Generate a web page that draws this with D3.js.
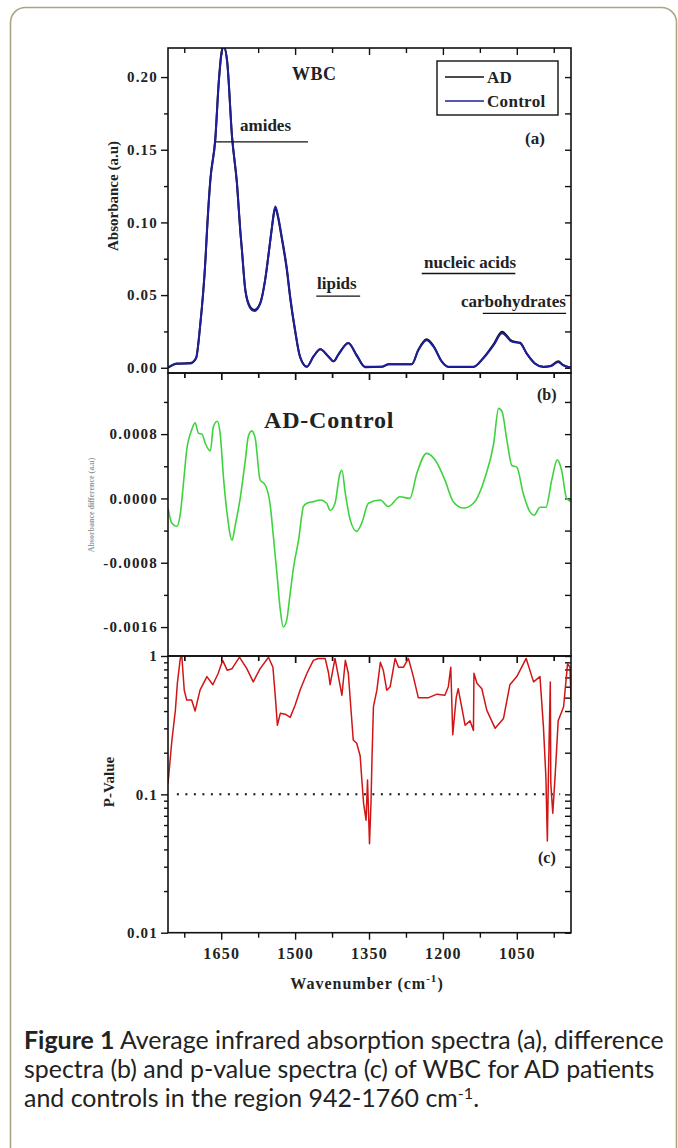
<!DOCTYPE html>
<html>
<head>
<meta charset="utf-8">
<script src="https://cdn.jsdelivr.net/npm/d3@7"></script>
<style>
  body { margin: 0; background: #fff; }
  svg { display: block; }
</style>
</head>
<body>
<div id="chart"></div>
<script>
// ---- data ----
// (a) average absorbance, wavenumber in cm-1
const wnA = [1758, 1740, 1713, 1701, 1693, 1682, 1679, 1672, 1662, 1655, 1649, 1645, 1638, 1628, 1618, 1611, 1608, 1601, 1591, 1583,
  1571, 1561, 1551, 1547, 1543, 1540, 1535, 1527, 1517, 1510, 1500, 1490, 1476, 1463, 1449, 1432, 1422, 1412, 1392, 1375,
  1358, 1324, 1310, 1263, 1250, 1233, 1219, 1202, 1189, 1138, 1118, 1097, 1080, 1060, 1043, 1030, 1013, 996, 982, 966, 956, 940];
const control = [0.0, 0.003, 0.003, 0.0066, 0.028, 0.074, 0.093, 0.129, 0.157, 0.196, 0.217, 0.221, 0.211, 0.159, 0.127, 0.093, 0.081, 0.053, 0.041, 0.039,
  0.044, 0.060, 0.086, 0.097, 0.107, 0.111, 0.105, 0.090, 0.069, 0.049, 0.026, 0.0076, 0.0007, 0.0076, 0.0127, 0.0076, 0.0045, 0.009, 0.017, 0.0087,
  0.0007, 0.0007, 0.0025, 0.0025, 0.012, 0.019, 0.0145, 0.004, 0.0007, 0.0007, 0.0065, 0.0156, 0.0237, 0.018, 0.0168, 0.0099, 0.003, 0.0007, 0.001, 0.004, 0.0018, 0.0];
const ad = [0.0, 0.0027, 0.0032, 0.0068, 0.0282, 0.0745, 0.0938, 0.1298, 0.1575, 0.1968, 0.2178, 0.2212, 0.2110, 0.1588, 0.1265, 0.0930, 0.0812, 0.0535, 0.0418, 0.0398,
  0.0443, 0.0601, 0.0859, 0.0965, 0.1062, 0.1100, 0.1040, 0.0888, 0.0678, 0.0480, 0.0252, 0.0075, 0.0007, 0.0076, 0.0127, 0.0076, 0.0044, 0.0093, 0.0171, 0.0084,
  0.0004, 0.0007, 0.0024, 0.0025, 0.0123, 0.0196, 0.0150, 0.0042, 0.0006, 0.0006, 0.0068, 0.0163, 0.0248, 0.0184, 0.0172, 0.0098, 0.0028, 0.0006, 0.0012, 0.0045, 0.0018, 0.0];

// (b) AD - Control difference
const wnB = [1758, 1750, 1740, 1733, 1726, 1720, 1710, 1703, 1696, 1689, 1682, 1672, 1666, 1658, 1652, 1645, 1638, 1628, 1622, 1611,
  1601, 1595, 1588, 1581, 1571, 1561, 1551, 1544, 1537, 1530, 1524, 1517, 1510, 1503, 1493, 1483, 1476, 1463, 1449, 1436,
  1429, 1419, 1409, 1405, 1398, 1388, 1375, 1365, 1351, 1327, 1311, 1287, 1267, 1253, 1233, 1216, 1196, 1179, 1158, 1138,
  1114, 1097, 1087, 1080, 1070, 1060, 1050, 1037, 1023, 1015, 1003, 991, 979, 968, 959, 949, 940];
const diff = [-0.00012, -0.00031, -0.00035, -0.00019, 0.00023, 0.00060, 0.00085, 0.00094, 0.00081, 0.00080, 0.00068, 0.00059, 0.00089, 0.00096, 0.00080, 0.00023, -0.00019, -0.00052, -0.00035, 0.00002,
  0.00048, 0.00077, 0.00084, 0.00075, 0.00023, 0.00017, -0.00006, -0.00048, -0.00093, -0.00139, -0.00160, -0.00151, -0.00118, -0.00085, -0.00052, -0.00010, -0.00006, -0.00004, -0.00002, -0.00006,
  -0.00015, -0.00006, 0.00031, 0.00035, 0.00006, -0.00027, -0.00041, -0.00031, -0.00006, -0.00002, -0.00010, 0.00002, 0.00000, 0.00031, 0.00056, 0.00048, 0.00023, -0.00004, -0.00012, -0.00006,
  0.00027, 0.00068, 0.00112, 0.00108, 0.00072, 0.00041, 0.00039, 0.00006, -0.00017, -0.00021, -0.00011, -0.00011, 0.00023, 0.00048, 0.00035, 0.00000, -0.00004];

// (c) p-value
const wnC = [1758, 1750, 1743, 1739, 1733, 1730, 1725, 1720, 1710, 1703, 1693, 1679, 1667, 1656, 1647, 1638, 1628, 1613, 1598, 1585,
  1571, 1554, 1545, 1540, 1536, 1530, 1520, 1510, 1500, 1490, 1476, 1463, 1453, 1439, 1432, 1429, 1419, 1412, 1405, 1398,
  1392, 1387, 1382, 1375, 1368, 1365, 1361, 1356, 1353, 1349, 1346, 1344, 1341, 1334, 1327, 1321, 1314, 1307, 1297, 1290,
  1280, 1270, 1260, 1250, 1229, 1212, 1196, 1189, 1184, 1180, 1173, 1169, 1162, 1155, 1145, 1138, 1137, 1131, 1121, 1111,
  1094, 1077, 1064, 1050, 1031, 1016, 1003, 996, 991, 988, 986, 982, 981, 977, 972, 966, 955, 947, 942, 940];
const pValue = [0.12, 0.247, 0.406, 0.635, 0.96, 1.0, 0.566, 0.48, 0.48, 0.40, 0.566, 0.71, 0.62, 0.75, 0.93, 0.79, 0.81, 0.98, 0.81, 0.65,
  0.81, 0.98, 0.83, 0.50, 0.316, 0.385, 0.38, 0.36, 0.44, 0.566, 0.75, 0.93, 0.96, 0.96, 0.75, 0.62, 0.96, 0.71, 0.52, 0.93,
  0.75, 0.43, 0.247, 0.234, 0.19, 0.134, 0.086, 0.065, 0.127, 0.044, 0.086, 0.177, 0.43, 0.566, 0.90, 0.79, 0.566, 0.60, 0.96, 0.83,
  0.83, 0.96, 0.71, 0.50, 0.50, 0.53, 0.52, 0.60, 0.83, 0.27, 0.50, 0.58, 0.43, 0.316, 0.34, 0.29, 0.75, 0.635, 0.58, 0.406,
  0.30, 0.354, 0.62, 0.71, 0.96, 0.65, 0.71, 0.31, 0.134, 0.046, 0.127, 0.65, 0.12, 0.073, 0.14, 0.34, 0.43, 0.88, 0.83, 0.48];

// ticks
const xMajor = [1650, 1500, 1350, 1200, 1050];
const xMinor = [1725, 1575, 1425, 1275, 1125, 975];
const yMajorA = [0, 0.05, 0.10, 0.15, 0.20];
const yMinorA = [0.025, 0.075, 0.125, 0.175];
const yMajorB = [-0.0016, -0.0008, 0, 0.0008];
const yMinorB = [-0.0012, -0.0004, 0.0004, 0.0012];
const yMajorC = [0.01, 0.1, 1];
const yMinorC = [0.02, 0.03, 0.04, 0.05, 0.06, 0.07, 0.08, 0.09, 0.2, 0.3, 0.4, 0.5, 0.6, 0.7, 0.8, 0.9];

// band annotations in panel (a): label, wavenumber span, level of the underline
const bandNames = ["amides", "lipids", "nucleic acids", "carbohydrates"];
const bandFrom = [1662, 1457, 1243, 1119];
const bandTo = [1474, 1368, 1053, 950];
const bandLevel = [0.1554, 0.0493, 0.0649, 0.0374];

const legendNames = ["AD", "Control"];
const pThreshold = 0.1;

// ---- layout ----
const W = 678, H = 1148;
const L = 168, R = 571;
const serif = "'Liberation Serif', 'DejaVu Serif', serif";
const ink = "#222";

const svg = d3.select("#chart").append("svg")
  .attr("width", W).attr("height", H)
  .style("background", "#fff");

// page frame
svg.append("rect")
  .attr("x", 10.5).attr("y", 7.5)
  .attr("width", 666).attr("height", 1170)
  .attr("rx", 15)
  .attr("fill", "none")
  .attr("stroke", "#aca582")
  .attr("stroke-width", 1.6);

const x = d3.scaleLinear().domain([1758, 940]).range([L, R]);
const yA = d3.scaleLinear().domain([-0.0036, 0.22]).range([373, 48]);
const yB = d3.scaleLinear().domain([-0.00196, 0.00156]).range([656, 373]);
const yC = d3.scaleLog().domain([0.01, 1]).range([932.7, 656]);

const plainLocale = d3.formatLocale({decimal: ".", thousands: ",", grouping: [3], currency: ["", ""], minus: "-"});

function label(px, py, txt, size, spacing) {
  return svg.append("text").attr("x", px).attr("y", py)
    .attr("font-family", serif).attr("font-weight", "bold").attr("font-size", size)
    .attr("letter-spacing", spacing || 0)
    .attr("fill", ink).text(txt);
}

function addAxis(axis, tx, ty, fontSize) {
  let g = svg.append("g")
    .attr("transform", `translate(${tx},${ty})`)
    .call(axis);
  g.select(".domain").remove();
  g.selectAll("line").attr("stroke", "#111").attr("stroke-width", 1.4);
  g.attr("font-family", serif)
    .attr("font-size", fontSize || 15)
    .attr("font-weight", "bold");
  g.selectAll("text").attr("fill", ink).attr("letter-spacing", 1.2);
  return g;
}

function panel(y, top, bottom, major, minor, fmt, id, showX) {
  // left (outward, labelled)
  addAxis(d3.axisLeft(y).tickValues(major).tickSize(7).tickSizeOuter(0).tickFormat(fmt), L, 0);
  addAxis(d3.axisLeft(y).tickValues(minor).tickSize(4).tickSizeOuter(0).tickFormat(""), L, 0);
  // right (inward)
  addAxis(d3.axisRight(y).tickValues(major.concat(minor)).tickSize(-6).tickSizeOuter(0).tickFormat(""), R, 0);
  // top (inward)
  addAxis(d3.axisTop(x).tickValues(xMajor).tickSize(-7).tickSizeOuter(0).tickFormat(""), 0, top);
  addAxis(d3.axisTop(x).tickValues(xMinor).tickSize(-5).tickSizeOuter(0).tickFormat(""), 0, top);
  // bottom (outward)
  let bx = addAxis(d3.axisBottom(x).tickValues(xMajor).tickSize(7).tickSizeOuter(0)
    .tickFormat(showX ? d3.format("d") : ""), 0, bottom, 16);
  bx.selectAll("text").attr("dy", "1.05em");
  addAxis(d3.axisBottom(x).tickValues(xMinor).tickSize(5).tickSizeOuter(0).tickFormat(""), 0, bottom);

  svg.append("clipPath").attr("id", id)
    .append("rect").attr("x", L).attr("y", top).attr("width", R - L).attr("height", bottom - top);

  return svg.append("g").attr("clip-path", `url(#${id})`);
}

function box(top, bottom) {
  svg.append("rect")
    .attr("x", L).attr("y", top)
    .attr("width", R - L).attr("height", bottom - top)
    .attr("fill", "none")
    .attr("stroke", "#111")
    .attr("stroke-width", 1.6);
}

// ---- panel (a) ----
let gA = panel(yA, 48, 373, yMajorA, yMinorA, d3.format(".2f"), "clipA", false);
let lineA = d3.line().x(d => x(d[0])).y(d => yA(d[1])).curve(d3.curveMonotoneX);
gA.append("path").datum(d3.zip(wnA, ad))
  .attr("d", lineA).attr("fill", "none").attr("stroke", "#111").attr("stroke-width", 2);
gA.append("path").datum(d3.zip(wnA, control))
  .attr("d", lineA).attr("fill", "none").attr("stroke", "#1f1f9e").attr("stroke-width", 2);
box(48, 373);

// band underlines and names
bandNames.forEach((name, i) => {
  svg.append("line")
    .attr("x1", x(bandFrom[i])).attr("x2", x(bandTo[i]))
    .attr("y1", yA(bandLevel[i])).attr("y2", yA(bandLevel[i]))
    .attr("stroke", "#111").attr("stroke-width", 1.4);
});
let bandPos = [[240, 131], [317, 289], [424, 268], [461, 307]];
bandNames.forEach((name, i) => label(bandPos[i][0], bandPos[i][1], name, 17));

label(292, 80, "WBC", 18, 0.5);
label(525, 144, "(a)", 17);

// legend
let legend = svg.append("g");
legend.append("rect").attr("x", 437).attr("y", 61).attr("width", 121).attr("height", 54)
  .attr("fill", "#fff").attr("stroke", "#111").attr("stroke-width", 1.4);
legendNames.forEach((name, i) => {
  let ly = 77 + i * 24;
  legend.append("line").attr("x1", 445).attr("x2", 484).attr("y1", ly).attr("y2", ly)
    .attr("stroke", i === 0 ? "#111" : "#1f1f9e").attr("stroke-width", 1.6);
  legend.append("text").attr("x", 487).attr("y", ly + 6)
    .attr("font-family", serif).attr("font-weight", "bold").attr("font-size", 17)
    .attr("letter-spacing", 0.3)
    .attr("fill", ink).text(name);
});

svg.append("text")
  .attr("transform", "translate(118,196) rotate(-90)")
  .attr("text-anchor", "middle")
  .attr("font-family", serif).attr("font-weight", "bold").attr("font-size", 15)
  .attr("fill", ink).text("Absorbance (a.u)");

// ---- panel (b) ----
let gB = panel(yB, 373, 656, yMajorB, yMinorB, plainLocale.format(".4f"), "clipB", false);
let lineB = d3.line().x(d => x(d[0])).y(d => yB(d[1])).curve(d3.curveMonotoneX);
gB.append("path").datum(d3.zip(wnB, diff))
  .attr("d", lineB).attr("fill", "none").attr("stroke", "#3fd23f").attr("stroke-width", 1.6);
box(373, 656);

label(264, 428, "AD-Control", 24, 0.8);
label(537, 400, "(b)", 16);
svg.append("text")
  .attr("transform", "translate(94,505) rotate(-90)")
  .attr("text-anchor", "middle")
  .attr("font-family", serif).attr("font-weight", "bold").attr("font-size", 8)
  .attr("fill", "#555").attr("opacity", 0.6)
  .text("Absorbance difference (a.u)");

// ---- panel (c) ----
let gC = panel(yC, 656, 932.7, yMajorC, yMinorC, d3.format("~g"), "clipC", true);
gC.append("line")
  .attr("x1", x(1740)).attr("x2", x(962))
  .attr("y1", yC(pThreshold)).attr("y2", yC(pThreshold))
  .attr("stroke", "#111").attr("stroke-width", 2)
  .attr("stroke-dasharray", "2,6.5");
let lineC = d3.line().x(d => x(d[0])).y(d => yC(d[1]));
gC.append("path").datum(d3.zip(wnC, pValue))
  .attr("d", lineC).attr("fill", "none").attr("stroke", "#d01515")
  .attr("stroke-width", 1.5).attr("stroke-linejoin", "round");
box(656, 932.7);

label(538, 863, "(c)", 16);
svg.append("text")
  .attr("transform", "translate(114,782) rotate(-90)")
  .attr("text-anchor", "middle")
  .attr("font-family", serif).attr("font-weight", "bold").attr("font-size", 15)
  .attr("fill", ink).text("P-Value");

let xt = svg.append("text").attr("x", 367).attr("y", 989)
  .attr("text-anchor", "middle")
  .attr("font-family", serif).attr("font-weight", "bold").attr("font-size", 16)
  .attr("letter-spacing", 1)
  .attr("fill", ink);
xt.append("tspan").text("Wavenumber (cm");
xt.append("tspan").attr("font-size", 11).attr("dy", -7).text("-1");
xt.append("tspan").attr("dy", 7).text(")");

// ---- caption ----
const sans = "Lato, 'Open Sans', sans-serif";
let cap = svg.append("g").attr("font-family", sans).attr("fill", "#222");
let l1 = cap.append("text").attr("x", 24).attr("y", 1049).attr("font-size", 20);
l1.append("tspan").attr("font-weight", "bold").text("Figure 1");
l1.append("tspan").text(" Average infrared absorption spectra (a), difference");
let fs = 20 * 640 / l1.node().getComputedTextLength();
l1.attr("font-size", fs);
cap.append("text").attr("x", 24).attr("y", 1078).attr("font-size", fs)
  .text("spectra (b) and p-value spectra (c) of WBC for AD patients");
let l3 = cap.append("text").attr("x", 24).attr("y", 1107).attr("font-size", fs);
l3.append("tspan").text("and controls in the region 942-1760 cm");
l3.append("tspan").attr("font-size", fs * 0.65).attr("dy", -8).text("-1");
l3.append("tspan").attr("dy", 8).text(".");
</script>
</body>
</html>
